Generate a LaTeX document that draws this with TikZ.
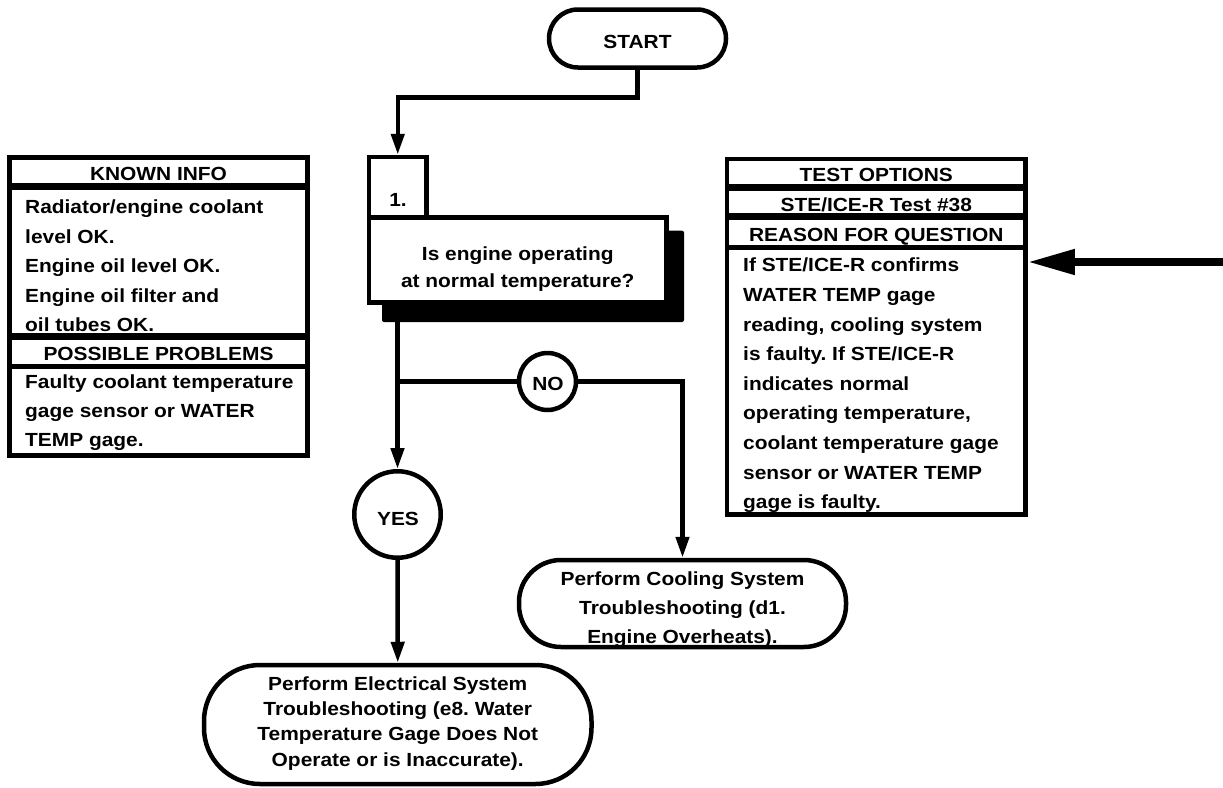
\documentclass[tikz,border=0pt]{standalone}
\usepackage{fontspec}
\setmainfont{Liberation Sans Bold}[FakeStretch=1.1]
\usetikzlibrary{arrows.meta}
\frenchspacing
\begin{document}
\frenchspacing
\begin{tikzpicture}[x=1pt,y=-1pt,
  line join=miter,
  frame/.style={draw, line width=4.5pt, inner sep=0pt, fill=white},
  txt/.style={inner sep=0pt, font=\fontsize{19}{29.6}\selectfont},
  conn/.style={line width=4.5pt, -{Triangle[length=21pt,width=13pt]}},
  wire/.style={line width=4.5pt},
  bigarrow/.style={line width=7.5pt, -{Triangle[length=47pt,width=24pt]}},
  thickdiv/.style={line width=7pt},
  thindiv/.style={line width=5pt}
]
\useasboundingbox (0,0) rectangle (1223,787);

% START
\node[frame, rounded corners=28.9pt, minimum width=177pt, minimum height=58pt] (start) at (637.5,38.5) {};
\node[txt, anchor=base] (starttxt) at (637.5,48.3) {START};

% Question box
\node[fill=black, inner sep=0pt, rounded corners=2pt, minimum width=302pt, minimum height=91.3pt] (shadow) at (533,276.35) {};
\node[frame, minimum width=297.5pt, minimum height=85pt] (q) at (517.75,260) {};
\node[frame, minimum width=57.5pt, minimum height=60.5pt] (num) at (397.75,187.25) {};
\node[txt, anchor=base] (numtxt) at (398,206.7) {1.};
\node[txt, anchor=north, align=center, font=\fontsize{19}{26.8}\selectfont] (qtxt) at (517.75,246.3) {Is engine operating\\at normal temperature?};

% KNOWN INFO box
\node[frame, minimum width=298pt, minimum height=298pt] (known) at (158.5,306.5) {};
\draw[thickdiv] (9.5,186.5) -- (307.5,186.5);
\draw[thickdiv] (9.5,336.5) -- (307.5,336.5);
\draw[thindiv] (9.5,366.5) -- (307.5,366.5);
\node[txt, anchor=base] (knownhead) at (158.5,180.7) {KNOWN INFO};
\node[txt, anchor=north west, align=left] (knowntxt) at (25,199.6) {Radiator/engine coolant\\level OK.\\Engine oil level OK.\\Engine oil filter and\\oil tubes OK.};
\node[txt, anchor=base] (probhead) at (158.5,360.7) {POSSIBLE PROBLEMS};
\node[txt, anchor=north west, align=left, font=\fontsize{19}{29}\selectfont] (probtxt) at (25,374.6) {Faulty coolant temperature\\gage sensor or WATER\\TEMP gage.};

% TEST OPTIONS box
\node[frame, minimum width=298.5pt, minimum height=355.5pt] (test) at (876.25,336.75) {};
\draw[line width=6.5pt] (727,187.5) -- (1025.5,187.5);
\draw[line width=6.5pt] (727,216.5) -- (1025.5,216.5);
\draw[thindiv] (727,247.5) -- (1025.5,247.5);
\node[txt, anchor=base] (testhead) at (876.25,181.7) {TEST OPTIONS};
\node[txt, anchor=base] (stetxt) at (876.25,211.7) {STE/ICE-R Test \#38};
\node[txt, anchor=base] (reasonhead) at (876.25,241.7) {REASON FOR QUESTION};
\node[txt, anchor=north west, align=left] (reasontxt) at (743,258) {If STE/ICE-R confirms\\WATER TEMP gage\\reading, cooling system\\is faulty. If STE/ICE-R\\indicates normal\\operating temperature,\\coolant temperature gage\\sensor or WATER TEMP\\gage is faulty.};
\coordinate (arrowstart) at (1228,262);
\draw[bigarrow] (arrowstart) -- (test.east |- arrowstart);

% YES / NO
\node[frame, circle, minimum size=86.5pt] (yes) at (397.5,514.5) {};
\node[txt, anchor=base] (yestxt) at (398,525) {YES};
\node[frame, circle, minimum size=57pt] (no) at (547.5,381.5) {};
\node[txt, anchor=base] (notxt) at (548,390) {NO};

% End ovals
\node[frame, rounded corners=56pt, minimum width=387.5pt, minimum height=119pt] (elec) at (397.75,724.5) {};
\node[txt, anchor=north, align=center, font=\fontsize{19}{25.3}\selectfont] (electxt) at (397.75,676.3) {Perform Electrical System\\Troubleshooting (e8. Water\\Temperature Gage Does Not\\Operate or is Inaccurate).};
\node[frame, rounded corners=42pt, minimum width=327pt, minimum height=87pt] (cool) at (682.5,603.5) {};
\node[txt, anchor=north, align=center, font=\fontsize{19}{29.2}\selectfont] (cooltxt) at (682.5,571.3) {Perform Cooling System\\Troubleshooting (d1.\\Engine Overheats).};

% Connectors
\draw[conn] (start.south) -- (start.south |- 0,97.5) -- (num.north |- 0,97.5) -- (num.north);
\draw[conn] (yes.north |- shadow.south) -- (yes.north);
\draw[wire] (yes.north |- no.west) -- (no.west);
\draw[conn] (no.east) -| (cool.north);
\draw[conn] (yes.south) -- (elec.north);
\end{tikzpicture}
\end{document}
